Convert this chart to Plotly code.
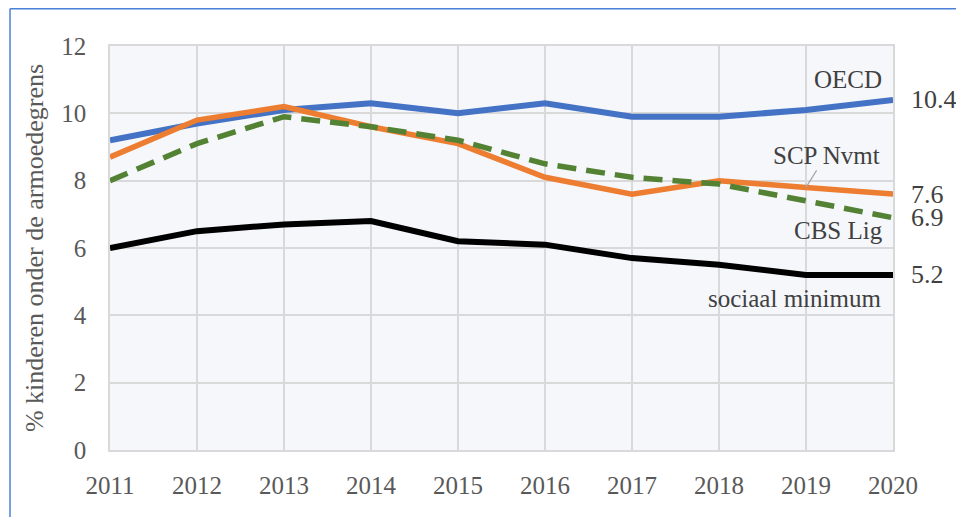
import plotly.graph_objects as go

years = [2011, 2012, 2013, 2014, 2015, 2016, 2017, 2018, 2019, 2020]
oecd = [9.2, 9.7, 10.1, 10.3, 10.0, 10.3, 9.9, 9.9, 10.1, 10.4]
scp_nvmt = [8.7, 9.8, 10.2, 9.6, 9.1, 8.1, 7.6, 8.0, 7.8, 7.6]
cbs_lig = [8.0, 9.1, 9.9, 9.6, 9.2, 8.5, 8.1, 7.9, 7.4, 6.9]
sociaal_min = [6.0, 6.5, 6.7, 6.8, 6.2, 6.1, 5.7, 5.5, 5.2, 5.2]
y_ticks = [0, 2, 4, 6, 8, 10, 12]

FONT = "Liberation Serif, Times New Roman, serif"
TXT = "#404040"

fig = go.Figure()
fig.add_trace(go.Scatter(x=years, y=oecd, mode="lines", name="OECD",
                         line=dict(color="#4472C4", width=6)))
fig.add_trace(go.Scatter(x=years, y=scp_nvmt, mode="lines", name="SCP Nvmt",
                         line=dict(color="#ED7D31", width=5.5)))
fig.add_trace(go.Scatter(x=years, y=cbs_lig, mode="lines", name="CBS Lig",
                         line=dict(color="#548235", width=5.5, dash="19px,10px")))
fig.add_trace(go.Scatter(x=years, y=sociaal_min, mode="lines", name="sociaal minimum",
                         line=dict(color="#000000", width=6)))

# end values to the right of the plot
for series in [oecd, scp_nvmt, cbs_lig, sociaal_min]:
    fig.add_annotation(x=1, xref="paper", y=series[-1], yref="y", text=str(series[-1]),
                       showarrow=False, xanchor="left", xshift=16,
                       font=dict(family=FONT, size=26, color=TXT))

# series names
fig.add_annotation(x=2019.9, y=11.0, text="OECD", showarrow=False, xanchor="right",
                   font=dict(family=FONT, size=25, color=TXT))
fig.add_annotation(x=2019.0, y=scp_nvmt[8], text="SCP Nvmt", showarrow=True, arrowhead=0,
                   arrowcolor="#A6A6A6", arrowwidth=1.2, ax=20, ay=-32,
                   font=dict(family=FONT, size=25, color=TXT))
fig.add_annotation(x=2019.91, y=6.53, text="CBS Lig", showarrow=False, xanchor="right",
                   font=dict(family=FONT, size=25, color=TXT))
fig.add_annotation(x=2019.89, y=4.49, text="sociaal minimum", showarrow=False, xanchor="right",
                   font=dict(family=FONT, size=25, color=TXT))

# blue frame edge (cropped border)
fig.add_shape(type="line", xref="paper", yref="paper", x0=-0.1277, x1=1.2, y0=1.0925, y1=1.0925,
              line=dict(color="#4A7FDA", width=1.5))
fig.add_shape(type="line", xref="paper", yref="paper", x0=-0.1277, x1=-0.1277, y0=-0.3, y1=1.0925,
              line=dict(color="#4A7FDA", width=1.5))

# page body adds an 8px offset, so the figure is drawn 8px smaller
fig.update_layout(
    width=956, height=509,
    margin=dict(l=102, r=71, t=38, b=67),
    paper_bgcolor="white",
    plot_bgcolor="#F5F7FB",
    showlegend=False,
    font=dict(family=FONT, size=25, color=TXT),
)
fig.update_xaxes(range=[2011, 2020], tickvals=years, showgrid=True, gridcolor="#D9D9D9",
                 gridwidth=1.5, showline=True, linecolor="#D9D9D9", linewidth=1.5, mirror=True,
                 zeroline=False, ticklabelstandoff=12, tickfont=dict(size=25, color="#595959"))
fig.update_yaxes(range=[0, 12], tickvals=y_ticks, showgrid=True, gridcolor="#D9D9D9",
                 gridwidth=1.5, showline=True, linecolor="#D9D9D9", linewidth=1.5, mirror=True,
                 zeroline=False, ticklabelstandoff=17, tickfont=dict(size=25, color="#595959"),
                 title=dict(text="% kinderen onder de armoedegrens", standoff=10,
                            font=dict(size=26, color="#595959")))

fig.write_html("out.html")
